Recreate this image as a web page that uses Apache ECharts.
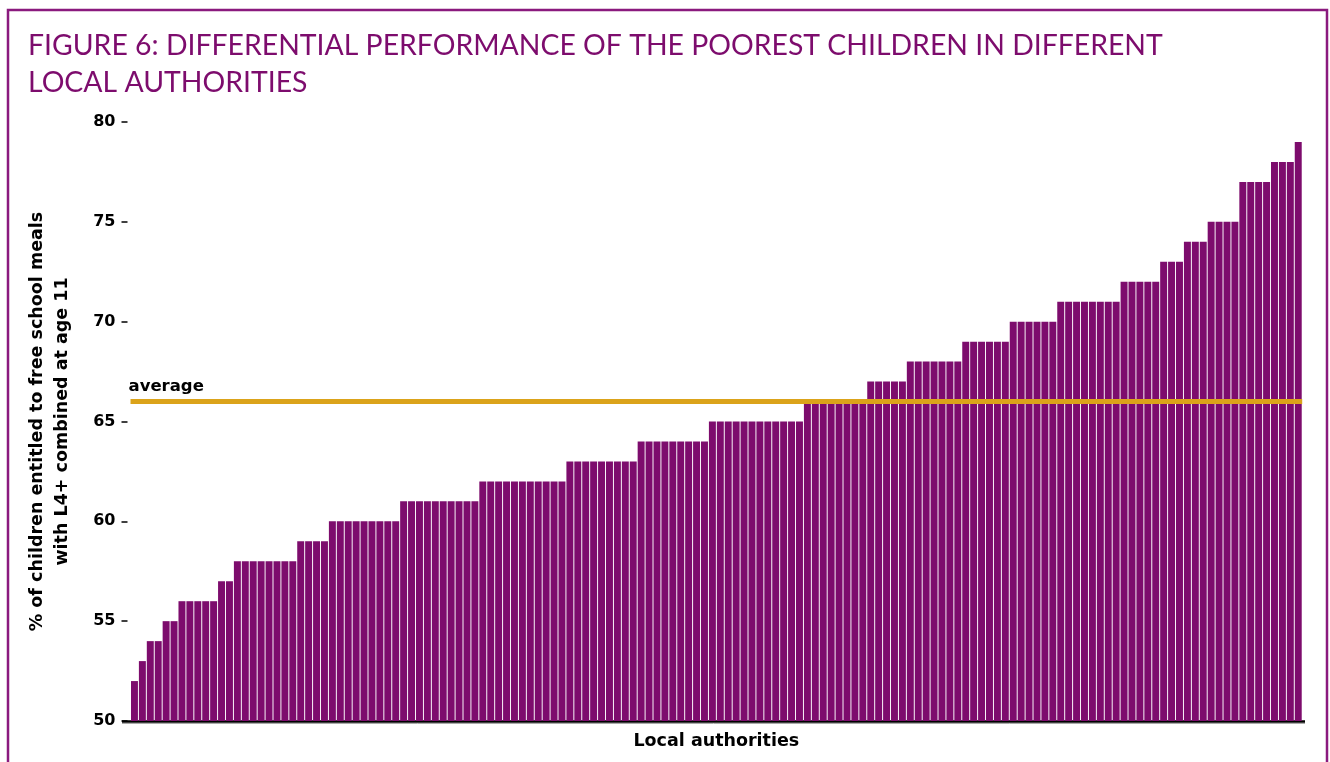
<!DOCTYPE html>
<html>
<head>
<meta charset="utf-8">
<script src="https://cdn.jsdelivr.net/npm/echarts@6/dist/echarts.min.js"></script>
<style>
  html, body { margin: 0; padding: 0; background: #fff; }
  #chart { width: 1330px; height: 762px; }
</style>
</head>
<body>
<div id="chart"></div>
<script>
// % of FSM children with L4+ at age 11, one bar per local authority (sorted)
const values = [
  52, 53, 54, 54, 55, 55, 56, 56, 56, 56, 56, 57, 57,
  58, 58, 58, 58, 58, 58, 58, 58, 59, 59, 59, 59,
  60, 60, 60, 60, 60, 60, 60, 60, 60,
  61, 61, 61, 61, 61, 61, 61, 61, 61, 61,
  62, 62, 62, 62, 62, 62, 62, 62, 62, 62, 62,
  63, 63, 63, 63, 63, 63, 63, 63, 63,
  64, 64, 64, 64, 64, 64, 64, 64, 64,
  65, 65, 65, 65, 65, 65, 65, 65, 65, 65, 65, 65,
  66, 66, 66, 66, 66, 66, 66, 66,
  67, 67, 67, 67, 67,
  68, 68, 68, 68, 68, 68, 68,
  69, 69, 69, 69, 69, 69,
  70, 70, 70, 70, 70, 70,
  71, 71, 71, 71, 71, 71, 71, 71,
  72, 72, 72, 72, 72,
  73, 73, 73,
  74, 74, 74,
  75, 75, 75, 75,
  77, 77, 77, 77,
  78, 78, 78,
  79
]
const authorities = values.map((v, i) => 'LA ' + (i + 1))
const average = 66
const yTicks = [50, 55, 60, 65, 70, 75, 80]

const purple = '#7d0c6d'
const gold = '#dba31a'
const boldFont = 'DejaVu Sans'

const chart = echarts.init(document.getElementById('chart'))

const option = {
  animation: false,
  title: {
    text: 'FIGURE 6: DIFFERENTIAL PERFORMANCE OF THE POOREST CHILDREN IN DIFFERENT\nLOCAL AUTHORITIES',
    left: 23,
    top: 22,
    textStyle: {
      fontFamily: 'Lato',
      fontWeight: 'normal',
      fontSize: 28.4,
      lineHeight: 37,
      color: purple
    }
  },
  grid: {
    left: 130.5,
    right: 27.8,
    top: 122,
    bottom: 41,
    outerBoundsMode: 'none',
    containLabel: false
  },
  xAxis: {
    type: 'category',
    data: authorities,
    name: 'Local authorities',
    nameLocation: 'middle',
    nameGap: 20,
    nameTextStyle: {
      fontFamily: boldFont,
      fontWeight: 'bold',
      fontSize: 17.5,
      verticalAlign: 'middle',
      color: '#000'
    },
    axisLine: { show: false },
    axisTick: { show: false },
    axisLabel: { show: false }
  },
  yAxis: {
    type: 'value',
    min: yTicks[0],
    max: yTicks[yTicks.length - 1],
    interval: 5,
    offset: 3,
    name: '% of children entitled to free school meals\nwith L4+ combined at age 11',
    nameLocation: 'middle',
    nameGap: 53,
    nameTextStyle: {
      fontFamily: boldFont,
      fontWeight: 'bold',
      fontSize: 17.5,
      lineHeight: 25,
      color: '#000'
    },
    axisLine: { show: false },
    axisTick: { show: true, length: 6, lineStyle: { color: '#000', width: 1.5 } },
    axisLabel: {
      margin: 12,
      fontFamily: boldFont,
      fontWeight: 'bold',
      fontSize: 16,
      color: '#000'
    },
    splitLine: { show: false }
  },
  series: [
    {
      type: 'bar',
      data: values,
      barCategoryGap: '12%',
      itemStyle: { color: purple },
      markLine: {
        silent: true,
        symbol: 'none',
        lineStyle: { color: gold, width: 5, type: 'solid' },
        label: {
          position: 'insideStartTop',
          formatter: 'average',
          distance: [-2, 6],
          fontFamily: boldFont,
          fontWeight: 'bold',
          fontSize: 16.5,
          color: '#000'
        },
        data: [{ yAxis: average }]
      }
    }
  ]
}

chart.setOption(option)

// frame around the figure and the heavy baseline under the bars
const base = chart.convertToPixel({ yAxisIndex: 0 }, yTicks[0])
chart.setOption({
  graphic: [
    {
      type: 'rect',
      shape: { x: 8, y: 10, width: 1319, height: 800 },
      style: { fill: 'none', stroke: '#8a1a7e', lineWidth: 2.5 },
      silent: true
    },
    {
      type: 'line',
      shape: { x1: 122, y1: base + 2.5, x2: 1305, y2: base + 2.5 },
      style: { stroke: '#aaa', lineWidth: 1 },
      silent: true
    },
    {
      type: 'line',
      shape: { x1: 122, y1: base + 0.5, x2: 1305, y2: base + 0.5 },
      style: { stroke: '#000', lineWidth: 2.5 },
      silent: true
    }
  ]
})
</script>
</body>
</html>
